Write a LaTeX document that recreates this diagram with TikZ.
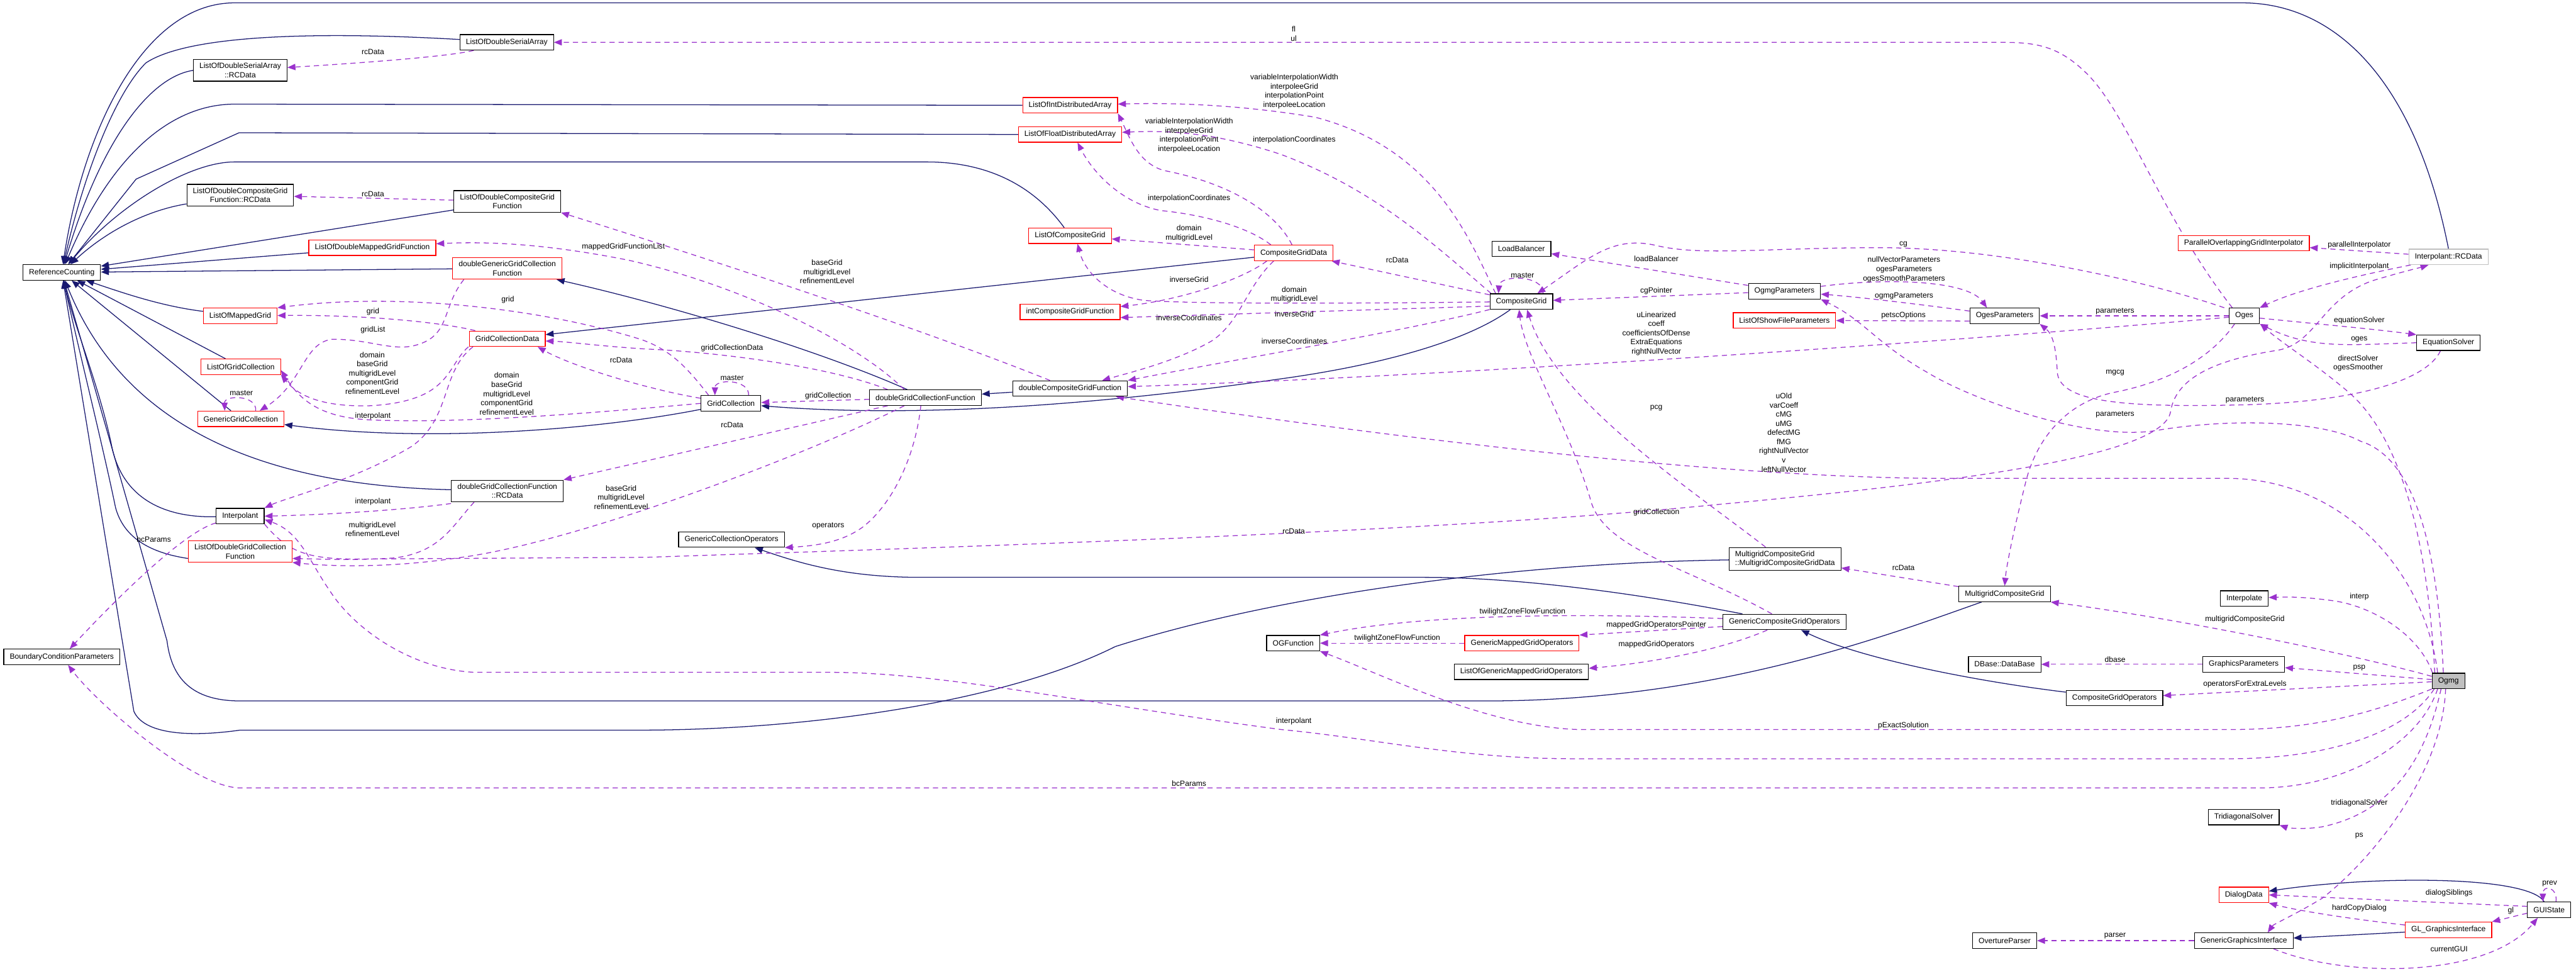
\documentclass[tikz,border=0pt]{standalone}
\usepackage{fontspec}
\newfontfamily\dotfont{Liberation Sans}
\usetikzlibrary{arrows.meta}
\definecolor{inhNavy}{HTML}{191970}
\definecolor{depPurple}{HTML}{9A32CD}
\definecolor{boxRed}{HTML}{FF0000}
\definecolor{boxGray}{HTML}{BFBFBF}
\pgfdeclarelayer{bg0}
\pgfdeclarelayer{edges}
\pgfsetlayers{bg0,edges,main}

\begin{document}
\begin{tikzpicture}[x=1pt, y=-1pt,
  cls/.style={draw=black, line width=1.3pt, fill=white, font=\dotfont\fontsize{13.3}{16}\selectfont, align=center, inner xsep=10.5pt, inner ysep=6pt, minimum height=27pt},
  redcls/.style={cls, draw=boxRed},
  grycls/.style={cls, draw=boxGray},
  focus/.style={cls, fill=boxGray},
  lbl/.style={font=\dotfont\fontsize{13.3}{16}\selectfont, align=center, inner sep=0pt},
  inh/.style={inhNavy, line width=1.4pt, -{Triangle[length=14pt,width=11pt]}},
  dep/.style={depPurple, line width=1.4pt, dash pattern=on 9pt off 7pt, -{Triangle[length=14pt,width=11pt]}}
]
  \begin{pgfonlayer}{bg0}
    \fill[white] (0,0) rectangle (4504,1700);
  \end{pgfonlayer}

  % classes
  \node[cls] (rc) at (108,476) {ReferenceCounting};
  \node[cls] (lodsa) at (886,74) {ListOfDoubleSerialArray};
  \node[cls] (lodsarc) at (420,123) {ListOfDoubleSerialArray\\::RCData};
  \node[cls] (lodcgfrc) at (420,341) {ListOfDoubleCompositeGrid\\Function::RCData};
  \node[cls] (lodcgf) at (887,352) {ListOfDoubleCompositeGrid\\Function};
  \node[redcls] (lodmgf) at (651,433) {ListOfDoubleMappedGridFunction};
  \node[redcls] (dggcf) at (887,469) {doubleGenericGridCollection\\Function};
  \node[redcls] (lomg) at (420,552) {ListOfMappedGrid};
  \node[redcls] (gcd) at (887,592) {GridCollectionData};
  \node[redcls] (logc) at (421,641) {ListOfGridCollection};
  \node[redcls] (ggc) at (421,732) {GenericGridCollection};
  \node[cls] (dgcfrc) at (887,858) {doubleGridCollectionFunction\\::RCData};
  \node[cls] (interpolant) at (420,902) {Interpolant};
  \node[redcls] (lodgcf) at (420,964) {ListOfDoubleGridCollection\\Function};
  \node[cls] (bcp) at (108,1148) {BoundaryConditionParameters};
  \node[cls] (gc) at (1278,705) {GridCollection};
  \node[cls] (dgcf) at (1618,695) {doubleGridCollectionFunction};
  \node[cls] (dcgf) at (1871,679) {doubleCompositeGridFunction};
  \node[cls] (gco) at (1279,943) {GenericCollectionOperators};
  \node[redcls] (loida) at (1871,184) {ListOfIntDistributedArray};
  \node[redcls] (lofda) at (1871,235) {ListOfFloatDistributedArray};
  \node[redcls] (locg) at (1871,412) {ListOfCompositeGrid};
  \node[redcls] (icgf) at (1871,545) {intCompositeGridFunction};
  \node[redcls] (cgd) at (2262,442) {CompositeGridData};
  \node[cls] (lb) at (2660,435) {LoadBalancer};
  \node[cls] (cg) at (2660,527) {CompositeGrid};
  \node[cls] (ogmgp) at (3120,509) {OgmgParameters};
  \node[redcls] (losfp) at (3120,560) {ListOfShowFileParameters};
  \node[redcls] (pogi) at (3923,425) {ParallelOverlappingGridInterpolator};
  \node[grycls] (irc) at (4281,449) {Interpolant::RCData};
  \node[cls] (ogesp) at (3505,552) {OgesParameters};
  \node[cls] (oges) at (3924,552) {Oges};
  \node[cls] (eqs) at (4281,599) {EquationSolver};
  \node[cls, align=left] (mcgd) at (3121,977) {MultigridCompositeGrid\\::MultigridCompositeGridData};
  \node[cls] (gcgo) at (3120,1087) {GenericCompositeGridOperators};
  \node[redcls] (gmgo) at (2661,1124) {GenericMappedGridOperators};
  \node[cls] (ogf) at (2261,1124) {OGFunction};
  \node[cls] (logmgo) at (2660,1174) {ListOfGenericMappedGridOperators};
  \node[cls] (mcg) at (3505,1038) {MultigridCompositeGrid};
  \node[cls] (interp) at (3924,1046) {Interpolate};
  \node[cls] (dbase) at (3505,1161) {DBase::DataBase};
  \node[cls] (gp) at (3923,1161) {GraphicsParameters};
  \node[focus] (ogmg) at (4281,1190) {Ogmg};
  \node[cls] (cgo) at (3697,1220) {CompositeGridOperators};
  \node[cls] (tds) at (3923,1428) {TridiagonalSolver};
  \node[redcls] (dd) at (3923,1564) {DialogData};
  \node[cls] (gui) at (4457,1590) {GUIState};
  \node[redcls] (glgi) at (4281,1625) {GL\_GraphicsInterface};
  \node[cls] (op) at (3505,1644) {OvertureParser};
  \node[cls] (ggi) at (3923,1644) {GenericGraphicsInterface};

  \begin{pgfonlayer}{edges}
  % inheritance
  \draw[inh] (irc.north) .. controls (4225,150) and (4090,5) .. (3920,5) -- (410,5) .. controls (250,5) and (145,230) .. (rc);
  \draw[inh] ([yshift=5pt]lodsa.west) .. controls (560,55) and (330,60) .. (255,110) .. controls (195,170) and (140,330) .. (rc);
  \draw[inh] (lodsarc.west) .. controls (260,135) and (175,250) .. (rc);
  \draw[inh] (loida.west) -- (410,182) .. controls (300,182) and (195,270) .. (rc);
  \draw[inh] (lofda.west) -- (418,232) -- (238,313) -- (rc);
  \draw[inh] (locg) .. controls (1815,335) and (1740,283) .. (1620,283) -- (410,283) .. controls (330,283) and (205,360) .. (rc);
  \draw[inh] (lodcgfrc) .. controls (255,368) and (185,405) .. (rc);
  \draw[inh] (lodcgf) -- (rc);
  \draw[inh] (lodmgf) -- (rc);
  \draw[inh] (dggcf) -- (rc);
  \draw[inh] (lomg) .. controls (280,535) and (210,510) .. (rc);
  \draw[inh] (logc) -- (rc);
  \draw[inh] (ggc) -- (rc);
  \draw[inh] (dgcfrc) .. controls (520,850) and (230,780) .. (rc);
  \draw[inh] (interpolant) .. controls (300,905) and (215,880) .. (195,778) .. controls (175,680) and (130,570) .. (rc);
  \draw[inh] ([yshift=-12pt]lodgcf.west) .. controls (255,965) and (215,935) .. (202,887) .. controls (180,780) and (135,600) .. (rc);
  \draw[inh] (mcg) .. controls (3300,1110) and (3000,1225) .. (2600,1225) -- (420,1225) .. controls (335,1225) and (300,1185) .. (292,1120) -- (rc);
  \draw[inh] (mcgd) .. controls (2600,985) and (2200,1050) .. (1950,1130) .. controls (1750,1230) and (1400,1276) .. (1120,1276) -- (420,1276) .. controls (320,1290) and (250,1280) .. (234,1243) -- (rc);
  \draw[inh] (gcgo) .. controls (2850,1035) and (2650,1009) .. (2490,1009) -- (1610,1009) .. controls (1480,1009) and (1400,985) .. (gco);
  \draw[inh] (gc) .. controls (1050,750) and (750,775) .. (ggc);
  \draw[inh] (cg) .. controls (2560,600) and (2400,640) .. (2240,662) .. controls (1900,710) and (1600,730) .. (gc);
  \draw[inh] (dcgf) -- (dgcf);
  \draw[inh] (dgcf) .. controls (1450,620) and (1200,540) .. (dggcf);
  \draw[inh] (cgd) -- (gcd);
  \draw[inh] (cgo) .. controls (3450,1190) and (3250,1150) .. (gcgo);
  \draw[inh] (glgi) -- (ggi);
  \draw[inh] (gui) .. controls (4420,1530) and (4150,1530) .. (dd);

  % usage
  \draw[dep] ([xshift=-21pt]oges.north) .. controls (3780,380) and (3720,200) .. (3650,130) .. controls (3600,80) and (3560,74) .. (3500,74) -- (lodsa);
  \draw[dep] (lodsa) .. controls (780,100) and (600,112) .. (lodsarc);
  \draw[dep] (lodcgf) -- (lodcgfrc);
  \draw[dep] ([xshift=-45pt]cg.north) .. controls (2570,420) and (2510,260) .. (2300,205) .. controls (2150,180) and (2030,180) .. (loida);
  \draw[dep] ([xshift=-3pt]cgd.north) .. controls (2230,370) and (2150,320) .. (2035,298) .. controls (1990,285) and (1975,240) .. (loida.south east);
  \draw[dep] ([xshift=-53pt]cg.north) .. controls (2500,420) and (2400,330) .. (2240,270) .. controls (2120,230) and (2040,228) .. (lofda);
  \draw[dep] ([xshift=-40pt]cgd.north) .. controls (2180,395) and (2100,375) .. (2030,368) .. controls (1960,355) and (1910,300) .. ([xshift=13pt]lofda.south);
  \draw[dep] (cgd) -- (locg);
  \draw[dep] (cg) .. controls (2400,530) and (2100,532) .. (2000,525) .. controls (1930,515) and (1895,470) .. ([xshift=13pt]locg.south);
  \draw[dep] ([xshift=-47pt]cgd.south) .. controls (2170,490) and (2060,525) .. (icgf);
  \draw[dep] ([yshift=-8pt]cg.west) -- ([yshift=-10pt]icgf.east);
  \draw[dep] ([xshift=-35pt]cgd.south) .. controls (2180,500) and (2170,560) .. (2120,595) .. controls (2060,630) and (1980,650) .. ([xshift=56pt]dcgf.north);
  \draw[dep] (cg) .. controls (2450,580) and (2150,630) .. (dcgf.north east);
  \draw[dep] (oges) .. controls (3500,590) and (2600,655) .. (dcgf);
  \draw[dep] ([xshift=-19pt]ogmg.north) .. controls (4240,1000) and (4100,840) .. (3900,836) -- (3400,836) .. controls (3000,836) and (2400,760) .. ([xshift=80pt]dcgf.south);
  \draw[dep] (dgcf) -- (gc);
  \draw[dep] ([xshift=31pt]gc.north) .. controls (1310,662) and (1250,662) .. ([xshift=-28pt]gc.north);
  \draw[dep] ([xshift=26pt]ggc.north) .. controls (450,690) and (392,690) .. ([xshift=-28pt]ggc.north);
  \draw[dep] ([xshift=38pt]cg.north) .. controls (2700,480) and (2622,480) .. ([xshift=-40pt]cg.north);
  \draw[dep] (cg) -- (cgd);
  \draw[dep] (ogmgp) -- (lb);
  \draw[dep] (ogmgp) -- (cg);
  \draw[dep] ([xshift=-35pt]oges.north) .. controls (3750,490) and (3500,435) .. (3300,433) .. controls (3100,432) and (2980,448) .. (2900,430) .. controls (2820,410) and (2780,450) .. ([xshift=28pt]cg.north);
  \draw[dep] (ogmgp) .. controls (3300,485) and (3440,490) .. ([xshift=-31pt]ogesp.north);
  \draw[dep] (ogesp) .. controls (3380,535) and (3260,520) .. (ogmgp);
  \draw[dep] ([yshift=-9pt]ogesp.west) -- (losfp);
  \draw[dep] (oges) -- (ogesp);
  \draw[dep] ([xshift=-9pt]ogmg.north) .. controls (4262,950) and (4220,800) .. (4127,771) .. controls (4060,735) and (3900,730) .. (3766,753) .. controls (3650,770) and (3450,700) .. (3370,651) .. controls (3280,600) and (3260,560) .. (ogmgp.south east);
  \draw[dep] ([xshift=-14pt]eqs.south) .. controls (4240,670) and (4100,705) .. (3900,708) .. controls (3700,712) and (3600,700) .. (3597,650) .. controls (3595,610) and (3590,585) .. (ogesp.south east);
  \draw[dep] ([xshift=-17pt]oges.south) .. controls (3870,620) and (3800,665) .. (3700,685) .. controls (3620,700) and (3560,760) .. (3540,850) .. controls (3520,930) and (3508,990) .. (mcg.north);
  \draw[dep] ([xshift=-24pt]ogmg.north) .. controls (4245,950) and (4200,760) .. (4100,680) .. controls (4040,630) and (3990,600) .. ([xshift=28pt]oges.south);
  \draw[dep] ([yshift=-4pt]oges.east) .. controls (4050,566) and (4150,575) .. (eqs.north west);
  \draw[dep] (eqs.west) .. controls (4100,603) and (4040,610) .. (oges.south east);
  \draw[dep] (irc) -- (pogi);
  \draw[dep] ([xshift=-66pt]irc.south) .. controls (4130,480) and (4020,505) .. (oges.north east);
  \draw[dep] (interpolant.south east) .. controls (500,960) and (530,977) .. (620,977) -- (1130,974) .. controls (1600,958) and (2500,932) .. (3000,882) .. controls (3400,845) and (3780,800) .. (3795,720) .. controls (3805,650) and (3900,625) .. (3983,612) .. controls (4050,600) and (4060,520) .. (4150,490) .. controls (4200,475) and (4230,468) .. ([xshift=-35pt]irc.south);
  \draw[dep] ([yshift=8pt]ogmg.west) .. controls (4100,1140) and (3800,1080) .. (mcg.south east);
  \draw[dep] ([xshift=-28pt]ogmg.north) .. controls (4230,1110) and (4150,1060) .. (4080,1050) .. controls (4030,1043) and (4000,1043) .. (interp);
  \draw[dep] (ogmg) -- (gp);
  \draw[dep] (ogmg) -- (cgo);
  \draw[dep] (gp) -- (dbase);
  \draw[dep] (ogmg.south west) .. controls (4150,1245) and (4050,1275) .. (3900,1275) -- (2760,1275) .. controls (2600,1270) and (2420,1180) .. (ogf.south east);
  \draw[dep] ([xshift=-25pt]ogmg.south) .. controls (4200,1290) and (4050,1326) .. (3900,1326) -- (2750,1326) .. controls (2550,1326) and (2400,1290) .. (2240,1275) .. controls (1900,1230) and (1650,1175) .. (1450,1175) -- (830,1175) .. controls (720,1170) and (620,1100) .. (577,1033) .. controls (540,980) and (525,930) .. ([yshift=-6pt]interpolant.east);
  \draw[dep] ([xshift=-19pt]ogmg.south) .. controls (4230,1300) and (4100,1377) .. (3950,1377) -- (420,1377) .. controls (340,1377) and (170,1230) .. ([xshift=11pt]bcp.south);
  \draw[dep] ([xshift=-13pt]ogmg.south) .. controls (4240,1330) and (4180,1420) .. (4060,1445) .. controls (4030,1450) and (4000,1447) .. (tds.south east);
  \draw[dep] ([xshift=-5pt]ogmg.south) .. controls (4270,1350) and (4150,1500) .. (4060,1570) .. controls (4010,1600) and (3975,1615) .. ([xshift=42pt]ggi.north);
  \draw[dep] ([xshift=52pt]ggi.south) .. controls (4100,1710) and (4350,1710) .. ([xshift=-20pt]gui.south);
  \draw[dep] (ggi) -- (op);
  \draw[dep] (glgi) .. controls (4100,1605) and (4010,1590) .. (dd.south east);
  \draw[dep] ([yshift=6pt]gui.west) -- (dd.east);
  \draw[dep] ([yshift=-6pt]gui.west) -- (glgi.north east);
  \draw[dep] ([xshift=12pt]gui.north) .. controls (4472,1550) and (4446,1545) .. ([xshift=-11pt]gui.north);
  \draw[dep] ([yshift=6pt]gcgo.west) .. controls (2800,1073) and (2500,1070) .. (ogf.north east);
  \draw[dep] (gmgo) -- (ogf);
  \draw[dep] ([yshift=-8pt]gcgo.west) -- (gmgo.north east);
  \draw[dep] ([xshift=-30pt]gcgo.south) .. controls (3000,1140) and (2870,1160) .. ([yshift=6pt]logmgo.east);
  \draw[dep] (mcg) -- (mcgd);
  \draw[dep] ([xshift=-34pt]mcgd.north) .. controls (2950,850) and (2720,700) .. ([xshift=10pt]cg.south);
  \draw[dep] ([xshift=-22pt]gcgo.north) .. controls (2950,990) and (2800,960) .. (2780,870) .. controls (2740,740) and (2665,620) .. ([xshift=-4pt]cg.south);
  \draw[dep] (dcgf) .. controls (1600,570) and (1200,440) .. (lodcgf.south east);
  \draw[dep] ([xshift=-37pt]dgcf.north) .. controls (1500,600) and (1300,500) .. (1100,455) .. controls (950,425) and (850,422) .. ([yshift=7pt]lodmgf.east);
  \draw[dep] ([xshift=-39pt]gc.north) .. controls (1200,640) and (1170,610) .. (1120,593) .. controls (950,540) and (700,510) .. (lomg.north east);
  \draw[dep] (gcd) .. controls (780,565) and (650,550) .. (lomg);
  \draw[dep] (gc) .. controls (1130,680) and (1000,640) .. ([xshift=53pt]gcd.south);
  \draw[dep] ([xshift=-66pt]dgcf.north) .. controls (1450,640) and (1250,615) .. (1130,610) .. controls (1050,605) and (990,597) .. ([yshift=-4pt]gcd.east);
  \draw[dep] ([xshift=-66pt]dgcf.south) -- (dgcfrc.north east);
  \draw[dep] ([xshift=-37pt]dgcf.south) .. controls (1400,800) and (1000,950) .. (800,975) .. controls (700,990) and (600,992) .. ([yshift=-19pt]lodgcf.east);
  \draw[dep] ([xshift=-58pt]dgcfrc.south) .. controls (790,920) and (770,965) .. (690,975) .. controls (620,980) and (560,977) .. ([yshift=-12pt]lodgcf.east);
  \draw[dep] ([yshift=-22pt]dgcfrc.west) .. controls (700,892) and (560,900) .. (interpolant.east);
  \draw[dep] ([xshift=-8pt]dgcf.south) .. controls (1600,800) and (1560,880) .. (1510,920) .. controls (1470,950) and (1420,954) .. (gco.south east);
  \draw[dep] ([xshift=-68pt]gcd.south) .. controls (780,640) and (790,700) .. (650,709) .. controls (560,712) and (520,690) .. (logc.south east);
  \draw[dep] (gc.west) .. controls (1000,725) and (800,740) .. (650,734) .. controls (560,730) and (525,700) .. ([yshift=-6pt]logc.east);
  \draw[dep] ([xshift=-60pt]gcd.south) .. controls (770,650) and (790,730) .. (720,780) .. controls (620,840) and (500,870) .. (interpolant.north east);
  \draw[dep] ([xshift=-76pt]dggcf.south) .. controls (770,540) and (790,590) .. (720,605) .. controls (680,612) and (640,592) .. (580,593) .. controls (530,600) and (530,670) .. ([xshift=33pt]ggc.north);
  \draw[dep] (interpolant) .. controls (320,930) and (200,1050) .. ([xshift=14pt]bcp.north);
  \end{pgfonlayer}

  % member names
  \node[lbl] (t-flul) at (2262,59) {fl\\ul};
  \node[lbl] (t-rcdata1) at (652,91) {rcData};
  \node[lbl] (t-rcdata2) at (652,339) {rcData};
  \node[lbl] (t-mgfl) at (1090,432) {mappedGridFunctionList};
  \node[lbl] (t-grid1) at (888,524) {grid};
  \node[lbl] (t-grid2) at (652,545) {grid};
  \node[lbl] (t-gridlist) at (652,577) {gridList};
  \node[lbl] (t-levels1) at (651,652) {domain\\baseGrid\\multigridLevel\\componentGrid\\refinementLevel};
  \node[lbl] (t-levels2) at (886,688) {domain\\baseGrid\\multigridLevel\\componentGrid\\refinementLevel};
  \node[lbl] (t-rcdata3) at (1086,629) {rcData};
  \node[lbl] (t-master1) at (422,687) {master};
  \node[lbl] (t-interpolant1) at (652,727) {interpolant};
  \node[lbl] (t-interpolant2) at (652,877) {interpolant};
  \node[lbl] (t-levels3) at (651,925) {multigridLevel\\refinementLevel};
  \node[lbl] (t-levels4) at (1086,869) {baseGrid\\multigridLevel\\refinementLevel};
  \node[lbl] (t-bcparams1) at (269,943) {bcParams};
  \node[lbl] (t-gcdata) at (1280,609) {gridCollectionData};
  \node[lbl] (t-master2) at (1280,660) {master};
  \node[lbl] (t-gridcoll1) at (1448,692) {gridCollection};
  \node[lbl] (t-rcdata4) at (1280,743) {rcData};
  \node[lbl] (t-operators) at (1448,919) {operators};
  \node[lbl] (t-levels5) at (1446,475) {baseGrid\\multigridLevel\\refinementLevel};
  \node[lbl] (t-interpdata1) at (2263,160) {variableInterpolationWidth\\interpoleeGrid\\interpolationPoint\\interpoleeLocation};
  \node[lbl] (t-interpdata2) at (2079,237) {variableInterpolationWidth\\interpoleeGrid\\interpolationPoint\\interpoleeLocation};
  \node[lbl] (t-coords1) at (2263,244) {interpolationCoordinates};
  \node[lbl] (t-coords2) at (2079,347) {interpolationCoordinates};
  \node[lbl] (t-domain1) at (2079,408) {domain\\multigridLevel};
  \node[lbl] (t-invgrid1) at (2079,488) {inverseGrid};
  \node[lbl] (t-invcoords1) at (2079,555) {inverseCoordinates};
  \node[lbl] (t-domain2) at (2263,515) {domain\\multigridLevel};
  \node[lbl] (t-invgrid2) at (2263,549) {inverseGrid};
  \node[lbl] (t-invcoords2) at (2263,596) {inverseCoordinates};
  \node[lbl] (t-rcdata5) at (2443,455) {rcData};
  \node[lbl] (t-master3) at (2662,481) {master};
  \node[lbl] (t-lb) at (2896,452) {loadBalancer};
  \node[lbl] (t-cgpointer) at (2896,508) {cgPointer};
  \node[lbl] (t-cg) at (3328,427) {cg};
  \node[lbl] (t-ogespars) at (3329,471) {nullVectorParameters\\ogesParameters\\ogesSmoothParameters};
  \node[lbl] (t-ogmgpars) at (3329,517) {ogmgParameters};
  \node[lbl] (t-petsc) at (3328,551) {petscOptions};
  \node[lbl] (t-ogesvecs) at (2896,583) {uLinearized\\coeff\\coefficientsOfDense\\ExtraEquations\\rightNullVector};
  \node[lbl] (t-parinterp) at (4125,428) {parallelInterpolator};
  \node[lbl] (t-implinterp) at (4125,466) {implicitInterpolant};
  \node[lbl] (t-params1) at (3698,544) {parameters};
  \node[lbl] (t-eqsolver) at (4125,560) {equationSolver};
  \node[lbl] (t-oges) at (4125,593) {oges};
  \node[lbl] (t-solvers) at (4123,635) {directSolver\\ogesSmoother};
  \node[lbl] (t-mgcg) at (3698,652) {mgcg};
  \node[lbl] (t-params2) at (3925,699) {parameters};
  \node[lbl] (t-params3) at (3698,725) {parameters};
  \node[lbl] (t-pcg) at (2896,713) {pcg};
  \node[lbl] (t-ogmgvecs) at (3119,756) {uOld\\varCoeff\\cMG\\uMG\\defectMG\\fMG\\rightNullVector\\v\\leftNullVector};
  \node[lbl] (t-gridcoll2) at (2896,895) {gridCollection};
  \node[lbl] (t-rcdata6) at (2262,928) {rcData};
  \node[lbl] (t-rcdata7) at (3328,992) {rcData};
  \node[lbl] (t-twilight1) at (2662,1069) {twilightZoneFlowFunction};
  \node[lbl] (t-mgopptr) at (2896,1092) {mappedGridOperatorsPointer};
  \node[lbl] (t-twilight2) at (2443,1115) {twilightZoneFlowFunction};
  \node[lbl] (t-mgops) at (2896,1126) {mappedGridOperators};
  \node[lbl] (t-interp) at (4125,1043) {interp};
  \node[lbl] (t-mcg) at (3925,1082) {multigridCompositeGrid};
  \node[lbl] (t-dbase) at (3698,1153) {dbase};
  \node[lbl] (t-psp) at (4125,1167) {psp};
  \node[lbl] (t-opsextra) at (3925,1196) {operatorsForExtraLevels};
  \node[lbl] (t-interpolant3) at (2262,1260) {interpolant};
  \node[lbl] (t-pexact) at (3328,1268) {pExactSolution};
  \node[lbl] (t-bcparams2) at (2079,1369) {bcParams};
  \node[lbl] (t-tridiag) at (4125,1404) {tridiagonalSolver};
  \node[lbl] (t-ps) at (4125,1461) {ps};
  \node[lbl] (t-prev) at (4458,1544) {prev};
  \node[lbl] (t-siblings) at (4282,1561) {dialogSiblings};
  \node[lbl] (t-hardcopy) at (4125,1587) {hardCopyDialog};
  \node[lbl] (t-gl) at (4390,1592) {gl};
  \node[lbl] (t-parser) at (3698,1636) {parser};
  \node[lbl] (t-currentgui) at (4282,1659) {currentGUI};
\end{tikzpicture}
\end{document}
